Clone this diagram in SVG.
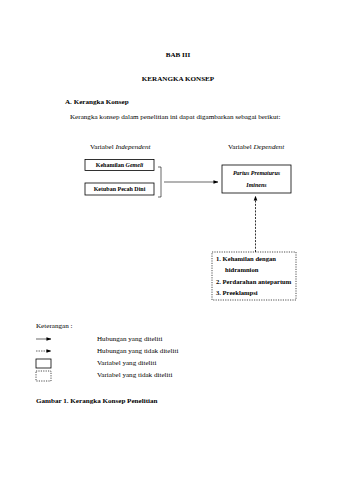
<svg xmlns="http://www.w3.org/2000/svg" width="339" height="480" viewBox="0 0 339 480">
<style>
text{font-family:"Liberation Serif","Times New Roman",serif;fill:#000;font-size:7.1px}
.b{font-weight:bold}
.bx{font-weight:bold;font-size:6px}
.li{font-weight:bold;font-size:6.6px}
.box{fill:#fff;stroke:#000;stroke-width:0.8}
.dbox{fill:#fff;stroke:#000;stroke-width:0.7;stroke-dasharray:1.2 1.2}
.ln{stroke:#000;stroke-width:0.6;fill:none}
.dl{stroke:#000;stroke-width:0.8;fill:none;stroke-dasharray:2 1.3}
</style>
<defs>
<marker id="ah" viewBox="0 0 6 6" refX="5.5" refY="3" markerWidth="5" markerHeight="5" orient="auto" markerUnits="userSpaceOnUse"><path d="M0,0.8 L6,3 L0,5.2 z" fill="#000"/></marker>
</defs>
<rect width="339" height="480" fill="#fff"/>
<text x="178" y="57" text-anchor="middle" class="b">BAB III</text>
<text x="178" y="81" text-anchor="middle" class="b">KERANGKA KONSEP</text>
<text x="65" y="104" class="b">A. Kerangka Konsep</text>
<text x="70" y="119">Kerangka konsep dalam penelitian ini dapat digambarkan sebagai berikut:</text>
<text x="90" y="149">Variabel <tspan font-style="italic">Independent</tspan></text>
<text x="228" y="149">Variabel <tspan font-style="italic">Dependent</tspan></text>

<g id="n1"><rect class="box" x="85" y="159.5" width="69" height="11"/><text x="119.5" y="167.2" text-anchor="middle" class="bx">Kehamilan <tspan font-style="italic">Gemeli</tspan></text></g>
<g id="n2"><rect class="box" x="85" y="183" width="69" height="12"/><text x="119.5" y="191.2" text-anchor="middle" class="bx">Ketuban Pecah Dini</text></g>
<g id="n3"><rect class="box" x="222" y="165" width="69" height="28"/><text x="256.5" y="174.5" text-anchor="middle" class="bx" font-style="italic">Partus Prematurus</text><text x="256.5" y="187" text-anchor="middle" class="bx" font-style="italic">Iminens</text></g>
<g id="n4"><rect class="dbox" x="212" y="252" width="84" height="48"/>
<text x="216" y="261" class="li">1.  Kehamilan dengan</text>
<text x="225" y="272" class="li">hidramnion</text>
<text x="216" y="284" class="li">2.  Perdarahan antepartum</text>
<text x="216" y="295" class="li">3.  Preeklampsi</text></g>

<g id="connectors">
<path class="ln" d="M158,167 H161 V197 H158"/>
<path class="ln" d="M164,182 H218" marker-end="url(#ah)"/>
<path class="dl" d="M255.5,252 V196" marker-end="url(#ah)"/>
</g>

<g id="legend">
<text x="36" y="328">Keterangan :</text>
<path class="ln" d="M36,339 H51" marker-end="url(#ah)"/>
<text x="97" y="341">Hubungan yang diteliti</text>
<path class="ln" stroke-dasharray="1.5 1" d="M36,351 H51" marker-end="url(#ah)"/>
<text x="97" y="353">Hubungan yang tidak diteliti</text>
<rect class="box" x="36" y="359" width="15" height="9"/>
<text x="97" y="365">Variabel yang diteliti</text>
<rect class="dbox" x="36" y="371" width="15" height="10"/>
<text x="97" y="377">Variabel yang tidak diteliti</text>
</g>
<text x="36" y="403" class="b">Gambar 1. Kerangka Konsep Penelitian</text>
</svg>
